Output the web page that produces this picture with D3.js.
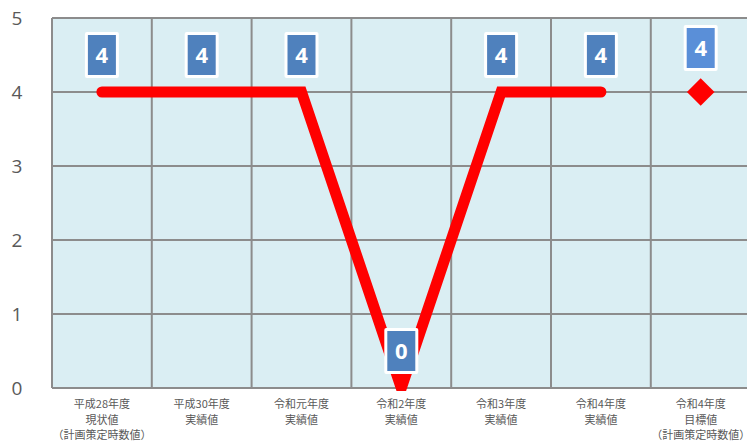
<!DOCTYPE html>
<html><head><meta charset="utf-8">
<script src="https://cdn.jsdelivr.net/npm/d3@7"></script>
<style>html,body{margin:0;padding:0;background:#fff;overflow:hidden}</style>
</head><body>
<svg id="c" width="747" height="441"></svg>
<script>
const categories = [
  ["平成28年度","現状値","（計画策定時数値）"],
  ["平成30年度","実績値"],
  ["令和元年度","実績値"],
  ["令和2年度","実績値"],
  ["令和3年度","実績値"],
  ["令和4年度","実績値"],
  ["令和4年度","目標値","（計画策定時数値）"]
];
const actualValues = [4, 4, 4, 0, 4, 4];
const targetValues = [null, null, null, null, null, null, 4];
const yTicks = [0, 1, 2, 3, 4, 5];

(function() {
const svg = d3.select("#c");
const pLeft = 52, pTop = 18, pBottom = 388, step = 99.8;
const x = d3.scaleBand().domain(d3.range(categories.length)).range([pLeft, pLeft + step * categories.length]).padding(0);
const y = d3.scaleLinear().domain([0, 5]).range([pBottom, pTop]);

svg.append("defs").append("clipPath").attr("id", "clip").append("rect")
  .attr("x", 0).attr("y", 0).attr("width", 800).attr("height", pBottom + 3);

svg.append("rect").attr("x", pLeft).attr("y", pTop).attr("width", x.range()[1] - pLeft).attr("height", pBottom - pTop).attr("fill", "#daeef3");

svg.append("g").selectAll("line").data(yTicks).join("line")
  .attr("x1", pLeft).attr("x2", x.range()[1]).attr("y1", d => y(d)).attr("y2", d => y(d))
  .attr("stroke", "#8c8c8c").attr("stroke-width", 2);
svg.append("g").selectAll("line").data(d3.range(categories.length + 1)).join("line")
  .attr("x1", d => pLeft + step * d).attr("x2", d => pLeft + step * d).attr("y1", pTop).attr("y2", pBottom)
  .attr("stroke", "#8c8c8c").attr("stroke-width", 2);

svg.append("g").selectAll("text").data(yTicks).join("text")
  .attr("x", 17).attr("y", d => y(d)).attr("dy", "0.35em").attr("text-anchor", "middle")
  .attr("font-family", "Open Sans, sans-serif").attr("font-size", 19).attr("fill", "#595959")
  .text(d => d);

const xl = svg.append("g").selectAll("text").data(categories).join("text")
  .attr("x", (d, i) => x(i) + x.bandwidth() / 2).attr("y", 408).attr("text-anchor", "middle")
  .attr("font-family", "Noto Sans CJK JP, sans-serif").attr("font-size", 11).attr("fill", "#595959");
xl.selectAll("tspan").data(d => d).join("tspan")
  .attr("x", function() { return this.parentNode.getAttribute("x"); })
  .attr("dy", (d, i) => i === 0 ? 0 : 15.5).text(d => d);

const cx = i => x(i) + x.bandwidth() / 2;
const line = d3.line().defined(d => d != null).x((d, i) => cx(i)).y(d => y(d));
svg.append("path").datum(actualValues).attr("d", line).attr("clip-path", "url(#clip)")
  .attr("fill", "none").attr("stroke", "#ff0000").attr("stroke-width", 11)
  .attr("stroke-linecap", "round").attr("stroke-linejoin", "miter").attr("stroke-miterlimit", 10);

svg.append("g").selectAll("path").data(targetValues.map((v, i) => ({v, i})).filter(d => d.v != null)).join("path")
  .attr("d", d3.symbol().type(d3.symbolSquare).size(380))
  .attr("transform", d => `translate(${cx(d.i)},${y(d.v)}) rotate(45)`)
  .attr("fill", "#ff0000");

function drawLabel(i, v, fill, off) {
  const g = svg.append("g").attr("transform", `translate(${cx(i)},${y(v) - off})`);
  g.append("rect").attr("x", -17).attr("y", -23).attr("width", 34).attr("height", 46).attr("fill", "#ffffff").attr("rx", 2);
  g.append("rect").attr("x", -14).attr("y", -20).attr("width", 28).attr("height", 40).attr("fill", fill);
  g.append("text").attr("text-anchor", "middle").attr("dy", "0.36em")
    .attr("font-family", "Open Sans, sans-serif").attr("font-weight", "bold").attr("font-size", 22).attr("fill", "#fff").text(v);
}
actualValues.forEach((v, i) => drawLabel(i, v, "#4f81bd", 37));
targetValues.forEach((v, i) => { if (v != null) drawLabel(i, v, "#5a8fd8", 44); });
})();
</script>
</body></html>
